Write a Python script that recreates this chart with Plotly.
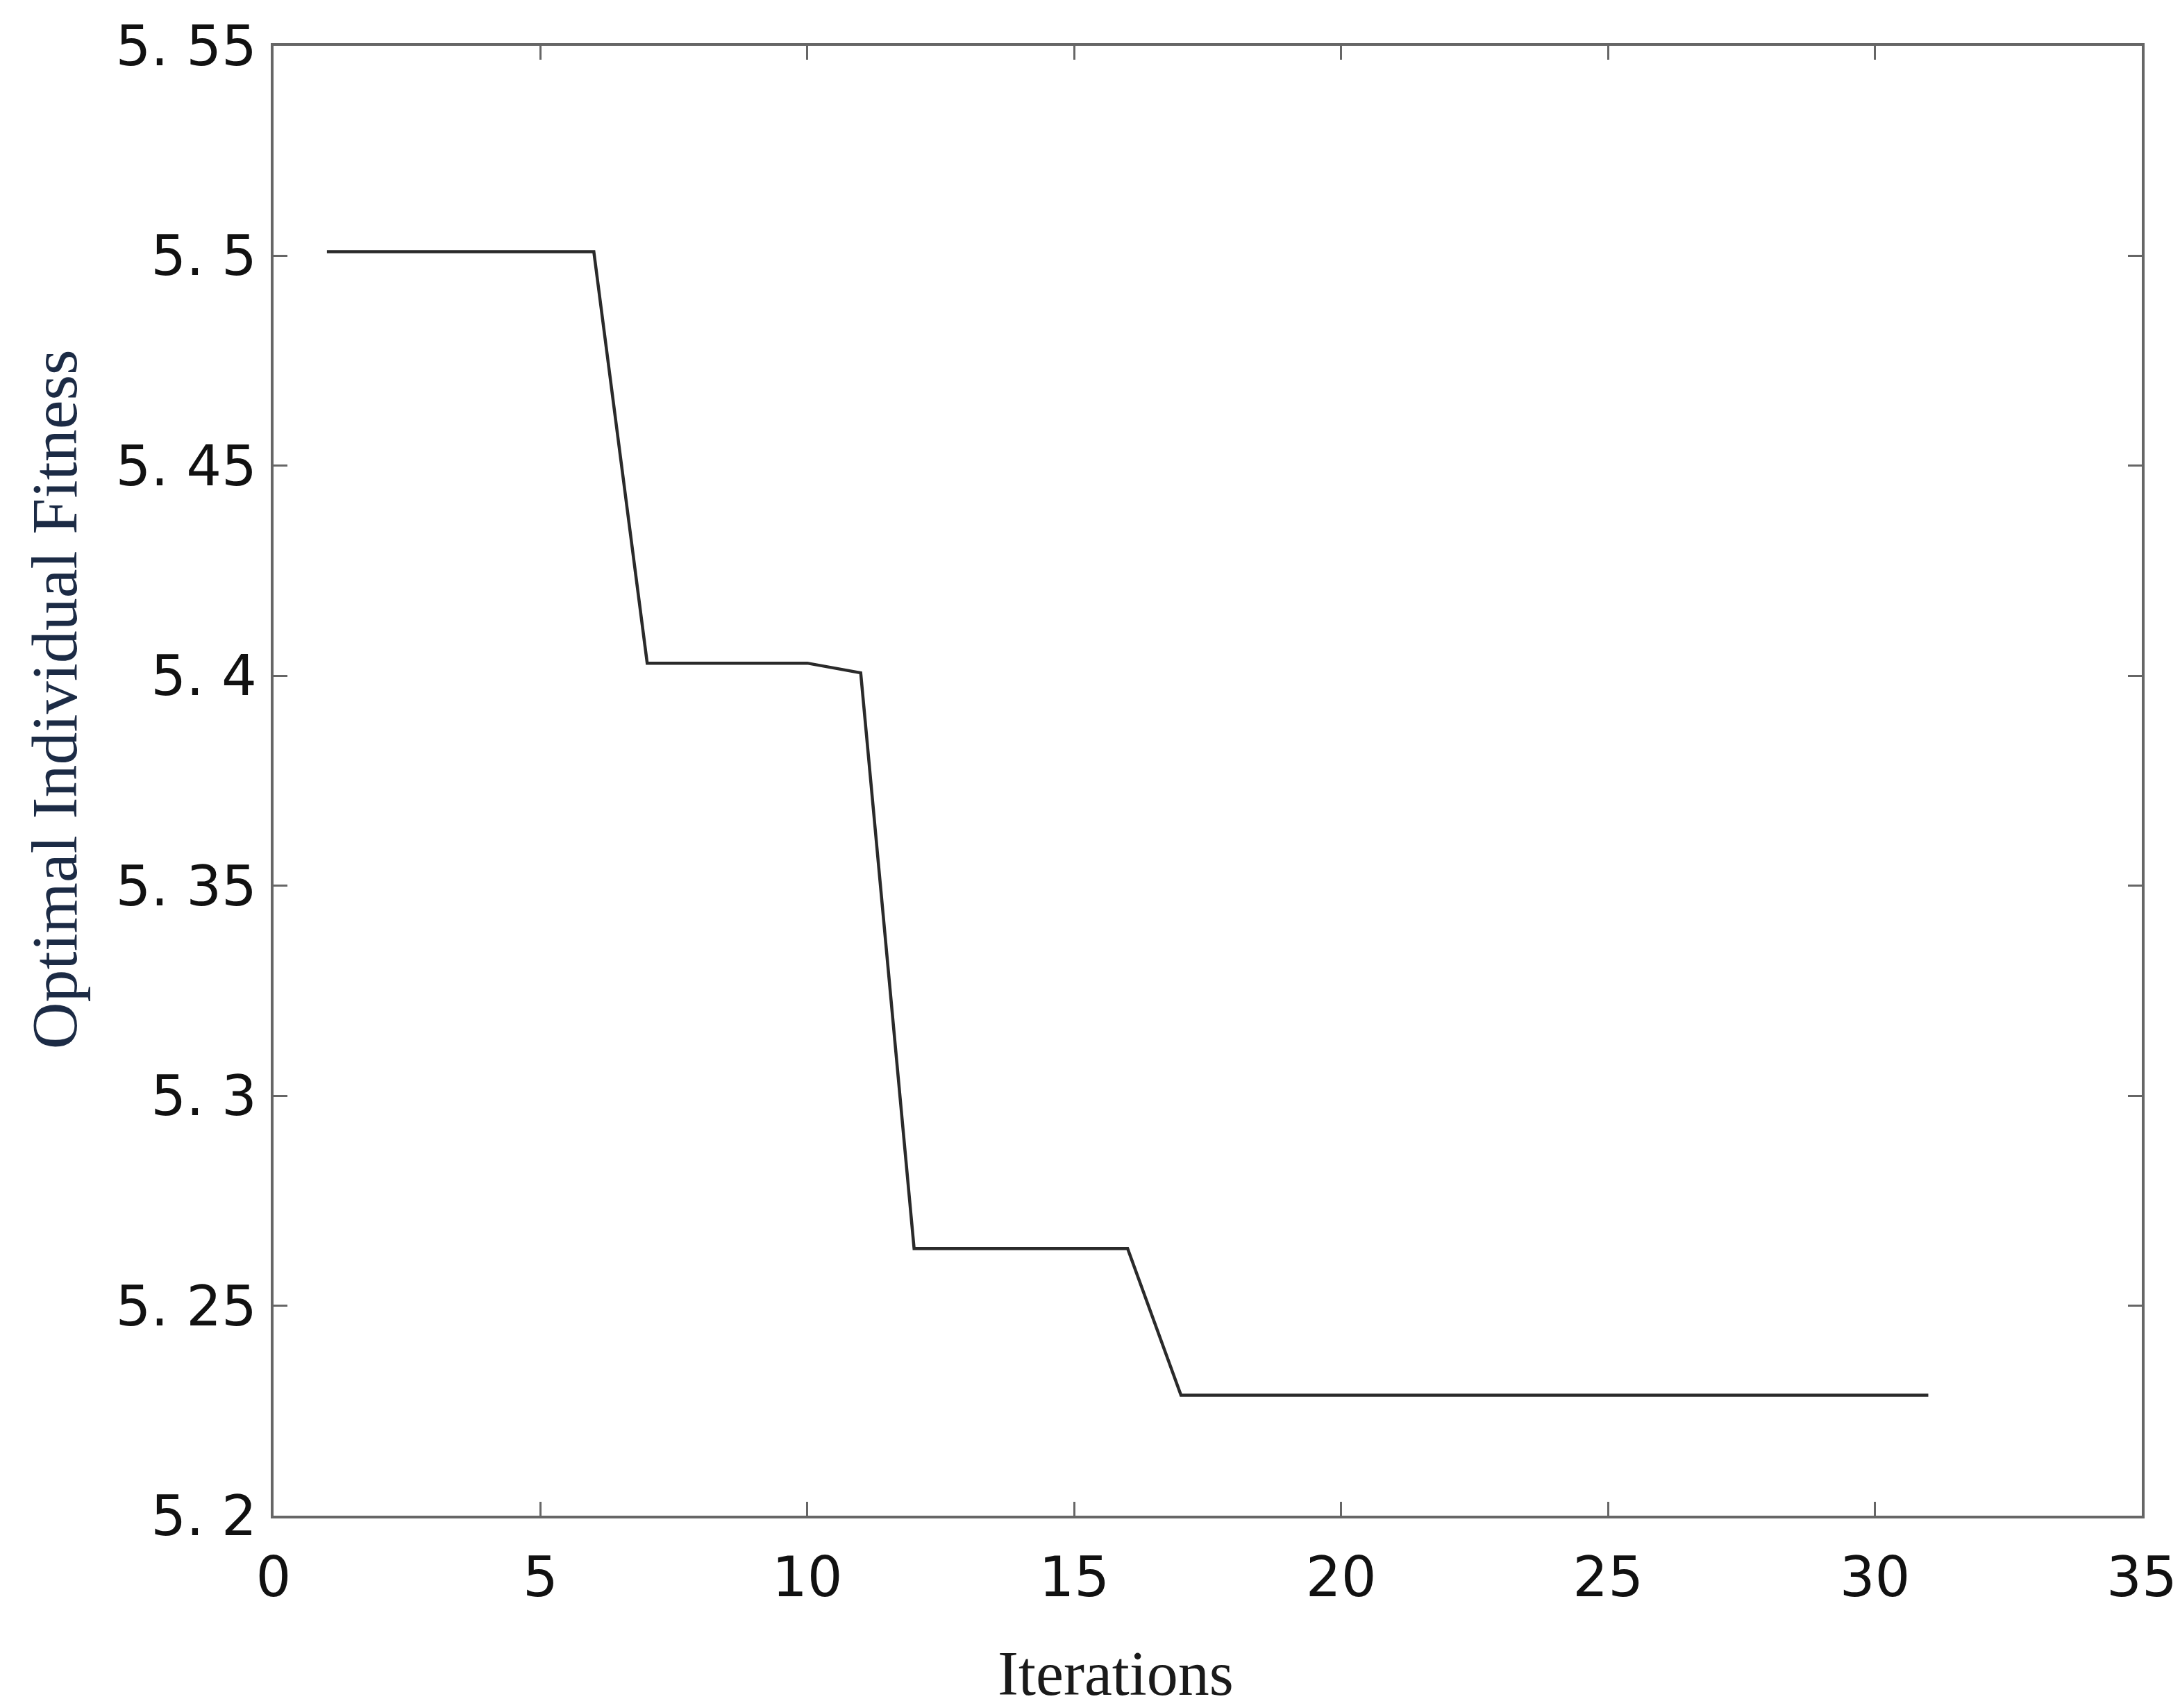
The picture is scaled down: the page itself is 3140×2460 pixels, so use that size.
import plotly.graph_objects as go

iterations = list(range(1, 32))
fitness = [5.501, 5.501, 5.501, 5.501, 5.501, 5.501,
           5.403, 5.403, 5.403, 5.403,
           5.4007,
           5.2636, 5.2636, 5.2636, 5.2636, 5.2636,
           5.2287, 5.2287, 5.2287, 5.2287, 5.2287, 5.2287, 5.2287, 5.2287,
           5.2287, 5.2287, 5.2287, 5.2287, 5.2287, 5.2287, 5.2287]

y_tickvals = [5.2, 5.25, 5.3, 5.35, 5.4, 5.45, 5.5, 5.55]
y_ticktext = ["5. 2", "5. 25", "5. 3", "5. 35", "5. 4", "5. 45", "5. 5", "5. 55"]
x_tickvals = [0, 5, 10, 15, 20, 25, 30, 35]

fig = go.Figure()
fig.add_trace(go.Scatter(x=iterations, y=fitness, mode="lines",
                         line=dict(color="#2a2a2a", width=4.5), showlegend=False))

W, H = 3140, 2460
L, R, T, B = 386, 56, 50, 285

axis_common = dict(showline=True, linecolor="#666666", linewidth=4, mirror="ticks",
                   ticks="inside", ticklen=20, tickwidth=3, tickcolor="#666666",
                   showgrid=False, zeroline=False,
                   tickfont=dict(family="DejaVu Sans", size=80, color="#111111"))

fig.update_layout(
    width=W, height=H,
    margin=dict(l=L, r=R, t=T, b=B),
    plot_bgcolor="white", paper_bgcolor="white",
    xaxis=dict(range=[0, 35], tickvals=x_tickvals, ticklabelstandoff=16, **axis_common),
    yaxis=dict(range=[5.2, 5.55], tickvals=y_tickvals, ticktext=y_ticktext,
               ticklabelstandoff=4, **axis_common),
)

fig.add_annotation(text="Iterations", xref="paper", yref="paper",
                   x=(1602 - L) / (W - L - R), y=-(2403 - (H - B)) / (H - T - B),
                   xanchor="center", yanchor="middle", showarrow=False,
                   font=dict(family="Liberation Serif", size=90, color="#1a1a1a"))
fig.add_annotation(text="Optimal Individual Fitness", xref="paper", yref="paper",
                   x=-(L - 70) / (W - L - R), y=1 - (995 - T) / (H - T - B),
                   xanchor="center", yanchor="middle", textangle=-90, showarrow=False,
                   font=dict(family="Liberation Serif", size=94, color="#1c2b45"))

fig.write_html("out.html")
